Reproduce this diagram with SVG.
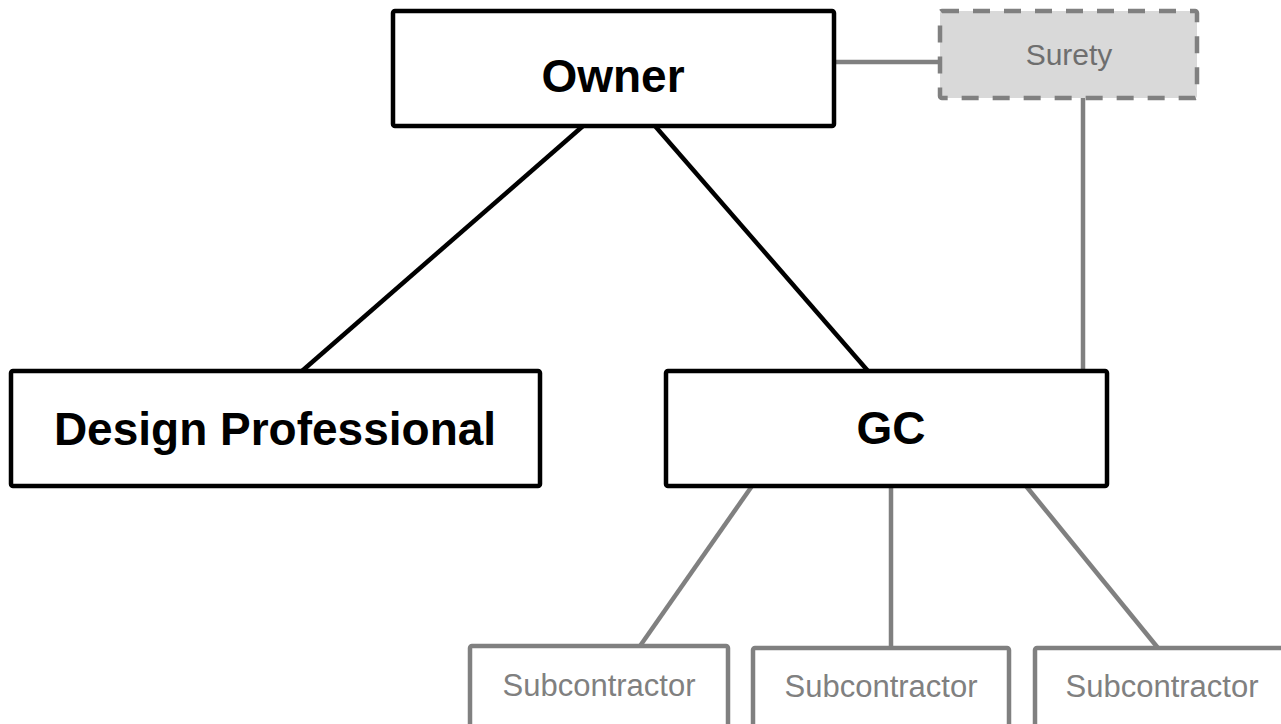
<svg xmlns="http://www.w3.org/2000/svg" width="1281" height="724" viewBox="0 0 1281 724">
<style>
.main rect{fill:#fff;stroke:#000;stroke-width:4.5;stroke-linejoin:round}
.main text{font-family:"Liberation Sans",Arial,sans-serif;font-weight:bold;font-size:46px;fill:#000;text-anchor:middle}
.sub rect{fill:#fff;stroke:#808080;stroke-width:4.5;stroke-linejoin:round}
.sub text{font-family:"Liberation Sans",Arial,sans-serif;font-size:31px;fill:#808080;text-anchor:middle}
.surety rect{fill:#d9d9d9;stroke:#808080;stroke-width:4.5;stroke-dasharray:17 14}
.surety text{font-family:"Liberation Sans",Arial,sans-serif;font-size:30px;fill:#6e6e6e;text-anchor:middle}
.blk{stroke:#000;stroke-width:4.5;fill:none}
.gry{stroke:#808080;stroke-width:4.5;fill:none}
</style>
<rect width="1281" height="724" fill="#fff"/>
<g id="connectors">
<line class="blk" x1="583" y1="126" x2="302" y2="371"/>
<line class="blk" x1="655" y1="126" x2="868" y2="371"/>
<line class="gry" x1="836" y1="62" x2="940" y2="62"/>
<line class="gry" x1="1083" y1="98" x2="1083" y2="371"/>
<line class="gry" x1="752" y1="486" x2="640" y2="646"/>
<line class="gry" x1="891" y1="486" x2="891" y2="648"/>
<line class="gry" x1="1026" y1="486" x2="1158" y2="648"/>
</g>
<g id="owner" class="main">
<rect x="393" y="11" width="441" height="115" rx="2"/>
<text x="613" y="92">Owner</text>
</g>
<g id="surety" class="surety">
<rect x="940" y="11" width="257" height="87" rx="2"/>
<text x="1069" y="65">Surety</text>
</g>
<g id="design-professional" class="main">
<rect x="11" y="371" width="529" height="115" rx="2"/>
<text x="275" y="445">Design Professional</text>
</g>
<g id="gc" class="main">
<rect x="666" y="371" width="441" height="115" rx="2"/>
<text x="891" y="444">GC</text>
</g>
<g id="sub1" class="sub">
<rect x="470" y="646" width="258" height="100" rx="2"/>
<text x="599" y="696">Subcontractor</text>
</g>
<g id="sub2" class="sub">
<rect x="753" y="648" width="256" height="100" rx="2"/>
<text x="881" y="697">Subcontractor</text>
</g>
<g id="sub3" class="sub">
<rect x="1035" y="648" width="256" height="100" rx="2"/>
<text x="1162" y="697">Subcontractor</text>
</g>
</svg>
